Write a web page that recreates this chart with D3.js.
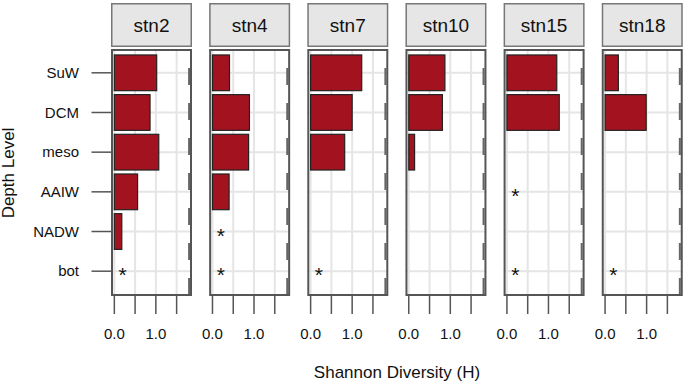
<!DOCTYPE html>
<html>
<head>
<meta charset="utf-8">
<script src="https://cdn.jsdelivr.net/npm/d3@7/dist/d3.min.js"></script>
<style>
  body { margin: 0; background: #fff; }
  svg { display: block; font-family: "Liberation Sans", Arial, sans-serif; }
</style>
</head>
<body>
<svg id="chart" width="686" height="387"></svg>
<script>
// depth levels, top to bottom
const levels = ["SuW", "DCM", "meso", "AAIW", "NADW", "bot"];
const stations = ["stn2", "stn4", "stn7", "stn10", "stn15", "stn18"];
// Shannon diversity per station (null = no sample, marked with *)
const stn2 = [1.02, 0.86, 1.07, 0.56, 0.18, null];
const stn4 = [0.41, 0.89, 0.87, 0.40, null, null];
const stn7 = [1.23, 1.00, 0.82, 0, 0, null];
const stn10 = [0.87, 0.81, 0.14, 0, 0, 0];
const stn15 = [1.20, 1.26, 0, null, 0, null];
const stn18 = [0.32, 0.99, 0, 0, 0, null];
const xTicks = [0, 0.5, 1.0, 1.5];
const xLabels = ["0.0", "", "1.0", ""];
const refLine = 1.8;

const series = [stn2, stn4, stn7, stn10, stn15, stn18];

const svg = d3.select("#chart");

const geo = { left: 111, step: 98.15, pw: 81, stripTop: 3, stripH: 44, top: 49, bottom: 295 };

const y = d3.scalePoint()
  .domain(levels)
  .range([geo.top, geo.bottom])
  .padding(0.6);
const bandH = y.step() * 0.9;

const gray = "#555";

// y axis ticks + labels
const yAxis = svg.append("g");
levels.forEach(l => {
  yAxis.append("line")
    .attr("x1", 91.5).attr("x2", geo.left)
    .attr("y1", y(l)).attr("y2", y(l))
    .attr("stroke", gray).attr("stroke-width", 1.5);
  yAxis.append("text")
    .attr("x", 79).attr("y", y(l))
    .attr("dy", "0.35em")
    .attr("text-anchor", "end")
    .attr("font-size", 15)
    .attr("fill", "#111")
    .text(l);
});

stations.forEach((stn, i) => {
  const x0 = geo.left + i * geo.step;
  const x = d3.scaleLinear().domain([-0.08, 1.87]).range([x0, x0 + geo.pw]);
  const g = svg.append("g");

  // strip
  g.append("rect")
    .attr("x", x0 + 0.75).attr("y", geo.stripTop + 0.75)
    .attr("width", geo.pw - 1.5).attr("height", geo.stripH - 1.5)
    .attr("fill", "#e6e6e6").attr("stroke", "#777").attr("stroke-width", 1.5);
  g.append("text")
    .attr("x", x0 + geo.pw / 2).attr("y", geo.stripTop + geo.stripH / 2)
    .attr("dy", "0.35em")
    .attr("text-anchor", "middle")
    .attr("font-size", 19)
    .attr("fill", "#111")
    .text(stn);

  // panel background
  g.append("rect")
    .attr("x", x0).attr("y", geo.top)
    .attr("width", geo.pw).attr("height", geo.bottom - geo.top)
    .attr("fill", "#fff");

  // grid
  xTicks.forEach(t => {
    g.append("line")
      .attr("x1", x(t)).attr("x2", x(t))
      .attr("y1", geo.top).attr("y2", geo.bottom)
      .attr("stroke", "#e5e5e5").attr("stroke-width", 2);
  });
  levels.forEach(l => {
    g.append("line")
      .attr("x1", x0).attr("x2", x0 + geo.pw)
      .attr("y1", y(l)).attr("y2", y(l))
      .attr("stroke", "#e5e5e5").attr("stroke-width", 2);
  });

  // dashed reference line
  g.append("line")
    .attr("x1", x(refLine)).attr("x2", x(refLine))
    .attr("y1", 68).attr("y2", geo.bottom)
    .attr("stroke", "#666").attr("stroke-width", 2)
    .attr("stroke-dasharray", "17,18");

  const vals = series[i];
  const data = levels.map((l, j) => ({ level: l, v: vals[j] }));

  g.selectAll("rect.bar")
    .data(data.filter(d => d.v !== null))
    .enter().append("rect")
    .attr("class", "bar")
    .attr("x", x(0))
    .attr("y", d => y(d.level) - bandH / 2)
    .attr("width", d => x(d.v) - x(0))
    .attr("height", bandH)
    .attr("fill", "#a3131f")
    .attr("stroke", "#222")
    .attr("stroke-width", 1.2);

  g.selectAll("text.na")
    .data(data.filter(d => d.v === null))
    .enter().append("text")
    .attr("class", "na")
    .attr("x", x(0.2))
    .attr("y", d => y(d.level) + 11)
    .attr("text-anchor", "middle")
    .attr("font-size", 21)
    .attr("fill", "#111")
    .text("*");

  // panel border
  g.append("rect")
    .attr("x", x0 + 1).attr("y", geo.top + 1)
    .attr("width", geo.pw - 2).attr("height", geo.bottom - geo.top - 1)
    .attr("fill", "none").attr("stroke", gray).attr("stroke-width", 2);

  // x ticks
  xTicks.forEach((t, k) => {
    g.append("line")
      .attr("x1", x(t)).attr("x2", x(t))
      .attr("y1", geo.bottom).attr("y2", 314)
      .attr("stroke", gray).attr("stroke-width", 1.5);
    if (xLabels[k]) {
      g.append("text")
        .attr("x", x(t)).attr("y", 338.5)
        .attr("text-anchor", "middle")
        .attr("font-size", 15)
        .attr("fill", "#111")
        .text(xLabels[k]);
    }
  });
});

// axis titles
svg.append("text")
  .attr("x", 397).attr("y", 378)
  .attr("text-anchor", "middle")
  .attr("font-size", 17)
  .attr("fill", "#111")
  .text("Shannon Diversity (H)");

svg.append("text")
  .attr("transform", "translate(14,173) rotate(-90)")
  .attr("text-anchor", "middle")
  .attr("font-size", 17)
  .attr("fill", "#111")
  .text("Depth Level");
</script>
</body>
</html>
